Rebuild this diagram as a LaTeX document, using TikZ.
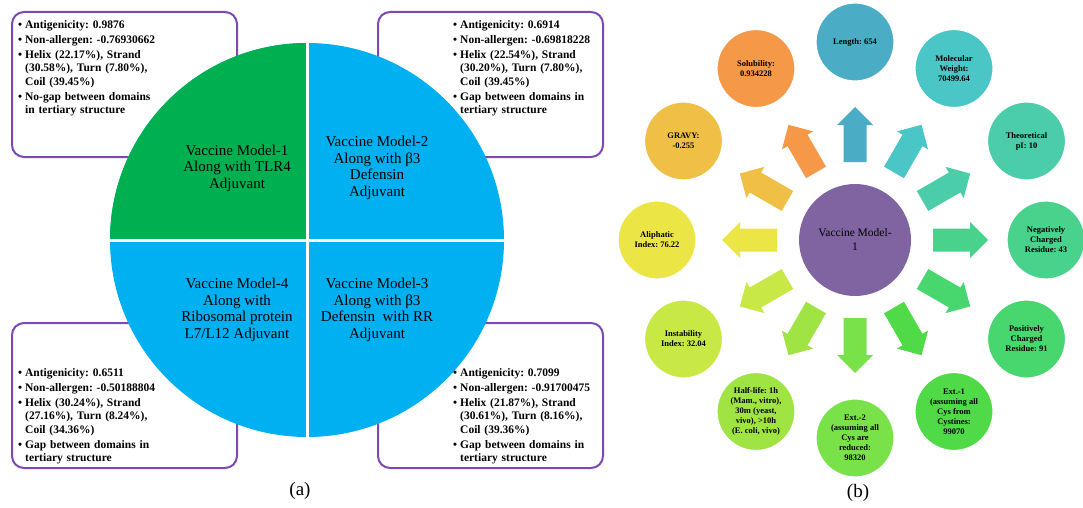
\documentclass[tikz,border=0pt]{standalone}
\usepackage{fontspec}
\setmainfont{Liberation Serif}
\usetikzlibrary{calc}
\frenchspacing
\definecolor{boxpurple}{RGB}{125,72,180}
\definecolor{qgreen}{RGB}{0,176,80}
\definecolor{qblue}{RGB}{0,176,240}
\definecolor{cenpurple}{RGB}{128,100,162}
\definecolor{cA}{RGB}{75,172,198}
\definecolor{cB}{RGB}{75,198,198}
\definecolor{cC}{RGB}{75,205,170}
\definecolor{cD}{RGB}{72,210,140}
\definecolor{cE}{RGB}{72,214,110}
\definecolor{cF}{RGB}{80,218,72}
\definecolor{cG}{RGB}{120,226,72}
\definecolor{cH}{RGB}{160,228,68}
\definecolor{cI}{RGB}{200,232,70}
\definecolor{cJ}{RGB}{235,230,70}
\definecolor{cK}{RGB}{240,192,70}
\definecolor{cL}{RGB}{245,152,72}
\newcommand{\bitem}[1]{\par\noindent\hangindent=7pt\hangafter=1\makebox[7pt][l]{\textbullet}#1\par}
\tikzset{
  infobox/.style={draw=boxpurple, line width=2pt, rounded corners=12pt},
  bulbox/.style={anchor=north west, inner sep=0pt, text width=200pt, align=left,
    font=\fontsize{11.5}{13.5}\selectfont\bfseries\frenchspacing},
  qtext/.style={align=center, font=\fontsize{15}{16.5}\selectfont},
  oc/.style={circle, minimum size=78pt, inner sep=0pt, draw=white, line width=1.2pt,
    align=center, font=\fontsize{8.5}{10}\selectfont\bfseries},
  sublabel/.style={font=\fontsize{19}{22}\selectfont}
}
\begin{document}
\begin{tikzpicture}[x=1pt,y=-1pt]
\useasboundingbox (0,0) rectangle (1083,508);
% ---------- panel (a) ----------
\draw[infobox] (12,12) rectangle (237,157);
\draw[infobox] (378,12) rectangle (603,157);
\draw[infobox] (12,323) rectangle (237,468);
\draw[infobox] (378,323) rectangle (603,468);

\node[circle, minimum size=394pt, inner sep=0pt, fill=qblue] (pie) at (307,240) {};
\begin{scope}
  \clip (pie.center) circle (197);
  \fill[qgreen] (pie.center) rectangle ($(pie.center)+(-200,-200)$);
\end{scope}
\draw[white, line width=3pt] (pie.north) -- (pie.south);
\draw[white, line width=3pt] (pie.west) -- (pie.east);

\node[qtext] (m1) at (237,168) {Vaccine Model-1\\Along with TLR4\\Adjuvant};
\node[qtext] (m2) at (377,168) {Vaccine Model-2\\Along with β3\\Defensin\\Adjuvant};
\node[qtext] (m3) at (377,310) {Vaccine Model-3\\Along with β3\\Defensin\ \ with RR\\Adjuvant};
\node[qtext] (m4) at (237,310) {Vaccine Model-4\\Along with\\Ribosomal protein\\L7/L12 Adjuvant};

\node[bulbox] (t1) at (18,13) {\setlength{\parskip}{1.5pt}%
\bitem{Antigenicity: 0.9876}
\bitem{Non-allergen: -0.76930662}
\bitem{Helix (22.17\%), Strand\newline(30.58\%), Turn (7.80\%),\newline Coil (39.45\%)}
\bitem{No-gap between domains\newline in tertiary structure}};
\node[bulbox] (t2) at (453,13) {\setlength{\parskip}{1.5pt}%
\bitem{Antigenicity: 0.6914}
\bitem{Non-allergen: -0.69818228}
\bitem{Helix (22.54\%), Strand\newline(30.20\%), Turn (7.80\%),\newline Coil (39.45\%)}
\bitem{Gap between domains in\newline tertiary structure}};
\node[bulbox] (t3) at (18,361) {\setlength{\parskip}{1.5pt}%
\bitem{Antigenicity: 0.6511}
\bitem{Non-allergen: -0.50188804}
\bitem{Helix (30.24\%), Strand\newline(27.16\%), Turn (8.24\%),\newline Coil (34.36\%)}
\bitem{Gap between domains in\newline tertiary structure}};
\node[bulbox] (t4) at (453,361) {\setlength{\parskip}{1.5pt}%
\bitem{Antigenicity: 0.7099}
\bitem{Non-allergen: -0.91700475}
\bitem{Helix (21.87\%), Strand\newline(30.61\%), Turn (8.16\%),\newline Coil (39.36\%)}
\bitem{Gap between domains in\newline tertiary structure}};

\node[sublabel] (la) at (300,491) {(a)};

% ---------- panel (b) ----------
\node[circle, minimum size=112pt, inner sep=0pt, fill=cenpurple, align=center,
  font=\fontsize{11.5}{14}\selectfont] (cen) at (855,240) {Vaccine Model-\\1};

\foreach \ang/\col in {90/cA,60/cB,30/cC,0/cD,-30/cE,-60/cF,-90/cG,-120/cH,-150/cI,180/cJ,150/cK,120/cL}{
  \begin{scope}[shift={(cen.center)}, rotate=\ang]
    \fill[\col] (78,-11.5) -- (115,-11.5) -- (115,-18) -- (133,0) -- (115,18) -- (115,11.5) -- (78,11.5) -- cycle;
  \end{scope}
}

\node[oc, fill=cA] (len) at (855,42) {Length: 654};
\node[oc, fill=cB] (mw) at (954,68.5) {Molecular\\Weight:\\70499.64};
\node[oc, fill=cC] (pi) at (1026.5,141) {Theoretical\\pI: 10};
\node[oc, fill=cD] (neg) at (1046,240) {Negatively\\Charged\\Residue: 43};
\node[oc, fill=cE] (pos) at (1026.5,339) {Positively\\Charged\\Residue: 91};
\node[oc, fill=cF] (ext1) at (954,411.5) {Ext.-1\\(assuming all\\Cys from\\Cystines:\\99070};
\node[oc, fill=cG] (ext2) at (855,438) {Ext.-2\\(assuming all\\Cys are\\reduced:\\98320};
\node[oc, fill=cH] (half) at (756,411.5) {Half-life: 1h\\(Mam., vitro),\\30m (yeast,\\vivo), >10h\\(E. coli, vivo)};
\node[oc, fill=cI] (inst) at (683.5,339) {Instability\\Index: 32.04};
\node[oc, fill=cJ] (ali) at (657,240) {Aliphatic\\Index: 76.22};
\node[oc, fill=cK] (gravy) at (683.5,141) {GRAVY:\\-0.255};
\node[oc, fill=cL] (sol) at (756,68.5) {Solubility:\\0.934228};

\node[sublabel] (lb) at (858,493) {(b)};
\end{tikzpicture}
\end{document}
